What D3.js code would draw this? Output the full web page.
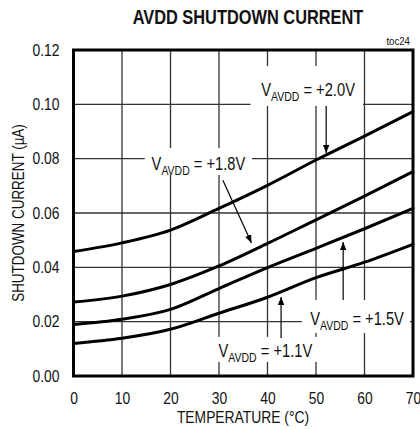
<!DOCTYPE html>
<html><head><meta charset="utf-8">
<script src="https://cdn.jsdelivr.net/npm/d3@7"></script>
<style>
html,body{margin:0;padding:0;background:#fff;}
text{font-family:"Liberation Sans",Arial,sans-serif;fill:#111;}
</style></head>
<body><svg id="c" width="420" height="429"></svg>
<script>
const temps = [0, 10, 20, 30, 40, 50, 60, 70];
const v20 = [0.0458, 0.0490, 0.0537, 0.0617, 0.0702, 0.0795, 0.0883, 0.0973];
const v18 = [0.0272, 0.0294, 0.0337, 0.0405, 0.0488, 0.0575, 0.0662, 0.0752];
const v15 = [0.0190, 0.0209, 0.0245, 0.0322, 0.0399, 0.0470, 0.0542, 0.0617];
const v11 = [0.0120, 0.0139, 0.0172, 0.0231, 0.0290, 0.0362, 0.0419, 0.0485];
const xTicks = [0, 10, 20, 30, 40, 50, 60, 70];
const yTicks = [0, 0.02, 0.04, 0.06, 0.08, 0.10, 0.12];
// annotations in data units
const labelText = ["+2.0V", "+1.8V", "+1.5V", "+1.1V"];
const labelPos = [[38.7, 0.1031], [16.1, 0.0758], [48.8, 0.0188], [29.9, 0.0069]];
const labelBox = [[36.5, 59.7, 0.1141, 0.0994], [14.7, 36.8, 0.0839, 0.0740], [47.1, 69.4, 0.0280, 0.0158], [28.6, 50.4, 0.0144, 0.0052]];
const arrows = [[52.1, 0.0994, 52.1, 0.0821], [30.8, 0.0721, 36.7, 0.0490], [55.6, 0.0280, 55.6, 0.0493], [42.8, 0.0140, 42.8, 0.0291]];

const K = 0.84; // horizontal condensing of the font
const svg = d3.select("#c");
const L = 73.5, R = 413, T = 50, B = 376;
const x = d3.scaleLinear().domain([0, 70]).range([L, R]);
const y = d3.scaleLinear().domain([0, 0.12]).range([B, T]);

svg.append("defs").append("marker").attr("id", "ah").attr("viewBox", "0 0 10 10")
  .attr("refX", 10).attr("refY", 5).attr("markerWidth", 8).attr("markerHeight", 9)
  .attr("markerUnits", "userSpaceOnUse").attr("orient", "auto")
  .append("path").attr("d", "M0,1 L10,5 L0,9 Z").attr("fill", "#000");

// grid
const g = svg.append("g");
g.selectAll(".vx").data(xTicks).join("line")
  .attr("x1", d => x(d)).attr("x2", d => x(d)).attr("y1", T).attr("y2", B)
  .attr("stroke", "#333").attr("stroke-width", 1.3);
g.selectAll(".hy").data(yTicks).join("line")
  .attr("x1", L).attr("x2", R).attr("y1", d => y(d)).attr("y2", d => y(d))
  .attr("stroke", "#333").attr("stroke-width", 1.3);

// label boxes (white knockouts)
svg.selectAll(".box").data(labelBox).join("rect")
  .attr("x", d => x(d[0])).attr("y", d => y(d[2]))
  .attr("width", d => x(d[1]) - x(d[0])).attr("height", d => y(d[3]) - y(d[2]))
  .attr("fill", "#fff");

// curves
const line = d3.line().x((d, i) => x(temps[i])).y(d => y(d)).curve(d3.curveMonotoneX);
[v20, v18, v15, v11].forEach(s => {
  svg.append("path").attr("d", line(s)).attr("fill", "none")
    .attr("stroke", "#000").attr("stroke-width", 3).attr("stroke-linecap", "round");
});

// arrows
svg.selectAll(".arr").data(arrows).join("line")
  .attr("x1", d => x(d[0])).attr("y1", d => y(d[1]))
  .attr("x2", d => x(d[2])).attr("y2", d => y(d[3]))
  .attr("stroke", "#000").attr("stroke-width", 1.2).attr("marker-end", "url(#ah)");

function ctext(px, py, extra) {
  return svg.append("g").attr("transform", `translate(${px},${py}) ${extra || ""} scale(${K},1)`).append("text");
}

// labels
labelText.forEach((t, i) => {
  const tx = ctext(x(labelPos[i][0]), y(labelPos[i][1])).attr("font-size", 17.5);
  tx.append("tspan").text("V");
  tx.append("tspan").text("AVDD").attr("font-size", 12.5).attr("dy", 5);
  tx.append("tspan").text(" = " + t).attr("dy", -5);
});

// frame
svg.append("rect").attr("x", L).attr("y", T).attr("width", R - L).attr("height", B - T)
  .attr("fill", "none").attr("stroke", "#000").attr("stroke-width", 3);

// axes
const xa = svg.append("g").attr("transform", `translate(0,${B})`)
  .call(d3.axisBottom(x).tickValues(xTicks).tickSize(0).tickPadding(16).tickFormat(d3.format("d")));
xa.select(".domain").remove();
xa.selectAll("text").attr("font-size", 16.5).attr("font-family", null).attr("fill", "#111")
  .attr("transform", `scale(${K},1)`);
const ya = svg.append("g").attr("transform", `translate(${L},0)`)
  .call(d3.axisLeft(y).tickValues(yTicks).tickSize(0).tickFormat(d3.format(".2f")));
ya.select(".domain").remove();
ya.selectAll("text").attr("font-size", 16.5).attr("font-family", null).attr("fill", "#111")
  .attr("x", -14 / K).attr("transform", `scale(${K},1)`);

ctext(248, 24).attr("text-anchor", "middle")
  .attr("font-size", 19.5).attr("font-weight", "bold").text("AVDD SHUTDOWN CURRENT");
ctext(243, 423).attr("text-anchor", "middle")
  .attr("font-size", 16.5).text("TEMPERATURE (°C)");
svg.append("g").attr("transform", `translate(24,${(T + B) / 2}) rotate(-90) scale(${K},1)`)
  .append("text").attr("text-anchor", "middle").attr("font-size", 16).text("SHUTDOWN CURRENT (µA)");
ctext(410, 45).attr("text-anchor", "end")
  .attr("font-size", 11.5).text("toc24");
</script></body></html>
